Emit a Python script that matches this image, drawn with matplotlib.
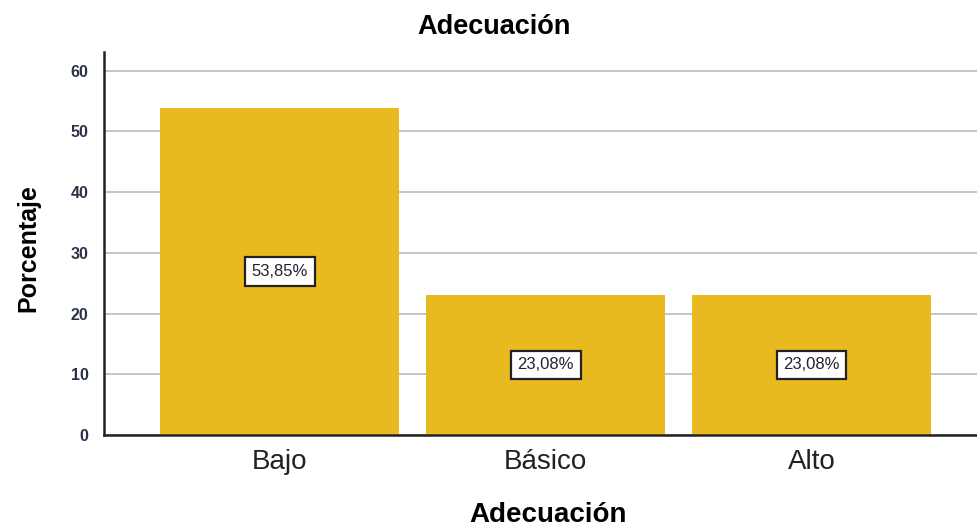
import matplotlib
matplotlib.use("Agg")
import matplotlib.pyplot as plt

categories = ["Bajo", "Básico", "Alto"]
values = [53.85, 23.08, 23.08]
labels = ["53,85%", "23,08%", "23,08%"]
yticks = [0, 10, 20, 30, 40, 50, 60]

plt.rcParams['font.family'] = ['Liberation Sans', 'DejaVu Sans']

fig = plt.figure(figsize=(9.77, 5.27), dpi=100)
ax = fig.add_axes([0.1064, 0.1746, 0.8936, 0.7268])

x = list(range(len(categories)))
ax.bar(x, values, width=0.9, color="#E9B920", zorder=2)
for xi, v, lab in zip(x, values, labels):
    ax.text(xi, v / 2, lab, ha="center", va="center", fontsize=12, zorder=3,
            color="#222233",
            bbox=dict(boxstyle="square,pad=0.4", fc="white", ec="#222222", lw=1.6))

ax.set_xlim(-0.662, 2.623)
ax.set_ylim(0, 63.1)
ax.set_yticks(yticks)
ax.set_yticklabels([str(t) for t in yticks], fontsize=11.5, fontweight="bold", color="#2B3348")
ax.set_xticks(x)
ax.set_xticklabels(categories, fontsize=20, color="#222222")
ax.yaxis.grid(True, color="#BBBBBB", lw=1.2, zorder=0)
ax.set_axisbelow(True)
for s in ["top", "right"]:
    ax.spines[s].set_visible(False)
ax.spines["left"].set_linewidth(1.8)
ax.spines["bottom"].set_linewidth(1.8)
ax.spines["left"].set_color("#222222")
ax.spines["bottom"].set_color("#222222")
ax.tick_params(axis="y", length=0, pad=11)
ax.tick_params(axis="x", length=0, pad=10)

fig.text(494 / 977, 1 - 27 / 527, "Adecuación", fontsize=19.5, fontweight="bold",
         ha="center", va="center")
fig.text(548 / 977, 1 - 515 / 527, "Adecuación", fontsize=20, fontweight="bold",
         ha="center", va="center")
fig.text(28 / 977, 1 - 248 / 527, "Porcentaje", fontsize=18, fontweight="bold",
         ha="center", va="center", rotation=90)

fig.savefig("out.png", dpi=100)
